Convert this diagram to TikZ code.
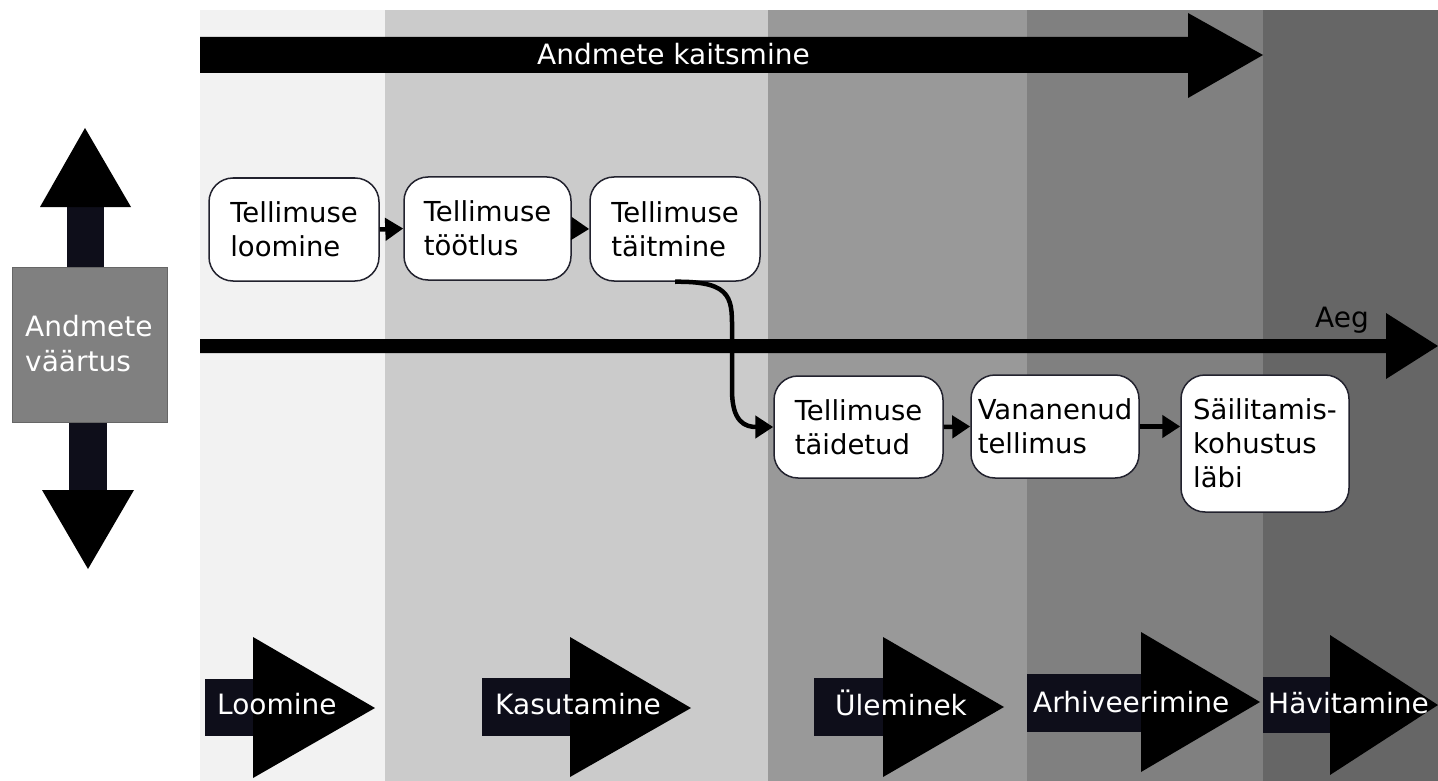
\documentclass[tikz,border=0pt]{standalone}
\usepackage{fontspec}
\setmainfont{DejaVu Sans}
\usetikzlibrary{arrows.meta}
\definecolor{colA}{HTML}{F2F2F2}
\definecolor{colB}{HTML}{CBCBCB}
\definecolor{colC}{HTML}{999999}
\definecolor{colD}{HTML}{808080}
\definecolor{colE}{HTML}{666666}
\definecolor{shaft}{HTML}{0E0E1A}
\definecolor{edgecol}{HTML}{22222E}
\begin{document}
\begin{tikzpicture}[x=1pt,y=-1pt,
  stagebox/.style={draw=edgecol, line width=1.5pt, fill=white, rounded corners=24pt,
    align=left, inner sep=0pt, font=\fontsize{27.5}{34}\selectfont},
  conn/.style={line width=4.5pt, -{Triangle[length=18pt,width=22pt]}},
  lbl/.style={anchor=base west, inner sep=0pt, text=white, font=\fontsize{28}{34}\selectfont},
  blk/.style={anchor=base west, inner sep=0pt, text=black, font=\fontsize{28}{34}\selectfont}]
\useasboundingbox (0,0) rectangle (1438,781);
\fill[white] (0,0) rectangle (1438,781);
% phase columns
\fill[colA] (200,10) rectangle (385,781);
\fill[colB] (385,10) rectangle (768,781);
\fill[colC] (768,10) rectangle (1027,781);
\fill[colD] (1027,10) rectangle (1263,781);
\fill[colE] (1263,10) rectangle (1438,781);
% top arrow
\fill[black] (200,37) -- (1188,37) -- (1188,13) -- (1263,55) -- (1188,98) -- (1188,73) -- (200,73) -- cycle;
\node[lbl] (kaitse) at (537,65) {Andmete kaitsmine};
% time arrow
\fill[black] (200,339) -- (1386,339) -- (1386,313) -- (1438,346) -- (1386,379) -- (1386,353) -- (200,353) -- cycle;
\node[blk] (aeg) at (1315,327) {Aeg};
% value arrow
\fill[shaft] (67,205) rectangle (104,268);
\fill[black] (40,207) -- (85,128) -- (131,207) -- cycle;
\fill[shaft] (69,421) rectangle (107,492);
\fill[black] (42,490) -- (134,490) -- (88,569) -- cycle;
\filldraw[fill=colD, draw=colE, line width=1pt] (12,267) rectangle (167,422);
\node[lbl, align=left, anchor=north west] (vaartus) at (25,315) {Andmete\\[1pt]väärtus};
% bottom phase arrows
\fill[shaft] (205,679) rectangle (253,736);
\fill[black] (253,637) -- (375,708) -- (253,778) -- cycle;
\node[lbl] (loomine) at (217,714) {Loomine};
\fill[shaft] (482,678) rectangle (570,736);
\fill[black] (570,637) -- (691,708) -- (570,777) -- cycle;
\node[lbl] (kasut) at (495,714) {Kasutamine};
\fill[shaft] (814,678) rectangle (883,736);
\fill[black] (883,637) -- (1004,707) -- (883,777) -- cycle;
\node[lbl] (ulem) at (835,715) {Üleminek};
\fill[shaft] (1027,674) rectangle (1141,732);
\fill[black] (1141,632) -- (1260,702) -- (1141,772) -- cycle;
\node[lbl] (arhiv) at (1033,712) {Arhiveerimine};
\fill[shaft] (1263,677) rectangle (1330,733);
\fill[black] (1330,635) -- (1438,705) -- (1330,775) -- cycle;
\node[lbl] (havit) at (1268,713) {Hävitamine};
% process nodes
\node[stagebox, minimum width=170pt, minimum height=103pt] (n1) at (294,229.5) {Tellimuse\\loomine};
\node[stagebox, minimum width=167pt, minimum height=103pt] (n2) at (487.5,228.5) {Tellimuse\\töötlus};
\node[stagebox, minimum width=170pt, minimum height=104pt] (n3) at (675,229) {Tellimuse\\täitmine};
\node[stagebox, minimum width=169pt, minimum height=102pt] (n4) at (858.5,427) {Tellimuse\\täidetud};
\node[stagebox, minimum width=168pt, minimum height=103pt] (n5) at (1055,426.5) {Vananenud\\tellimus};
\node[stagebox, minimum width=168pt, minimum height=137pt] (n6) at (1265,443.5) {Säilitamis-\\kohustus\\läbi};
% connectors
\draw[conn] (n1.east) -- (n2.west);
\draw[conn] (n2.east) -- (n3.west);
\draw[conn] (n3.south) .. controls (735,281) and (732,300) .. (732,335) -- (732,390) .. controls (732,422) and (745,427) .. (n4.west);
\draw[conn] (n4.east) -- (n5.west);
\draw[conn] (n5.east) -- (n5.east -| n6.west);
\end{tikzpicture}
\end{document}
